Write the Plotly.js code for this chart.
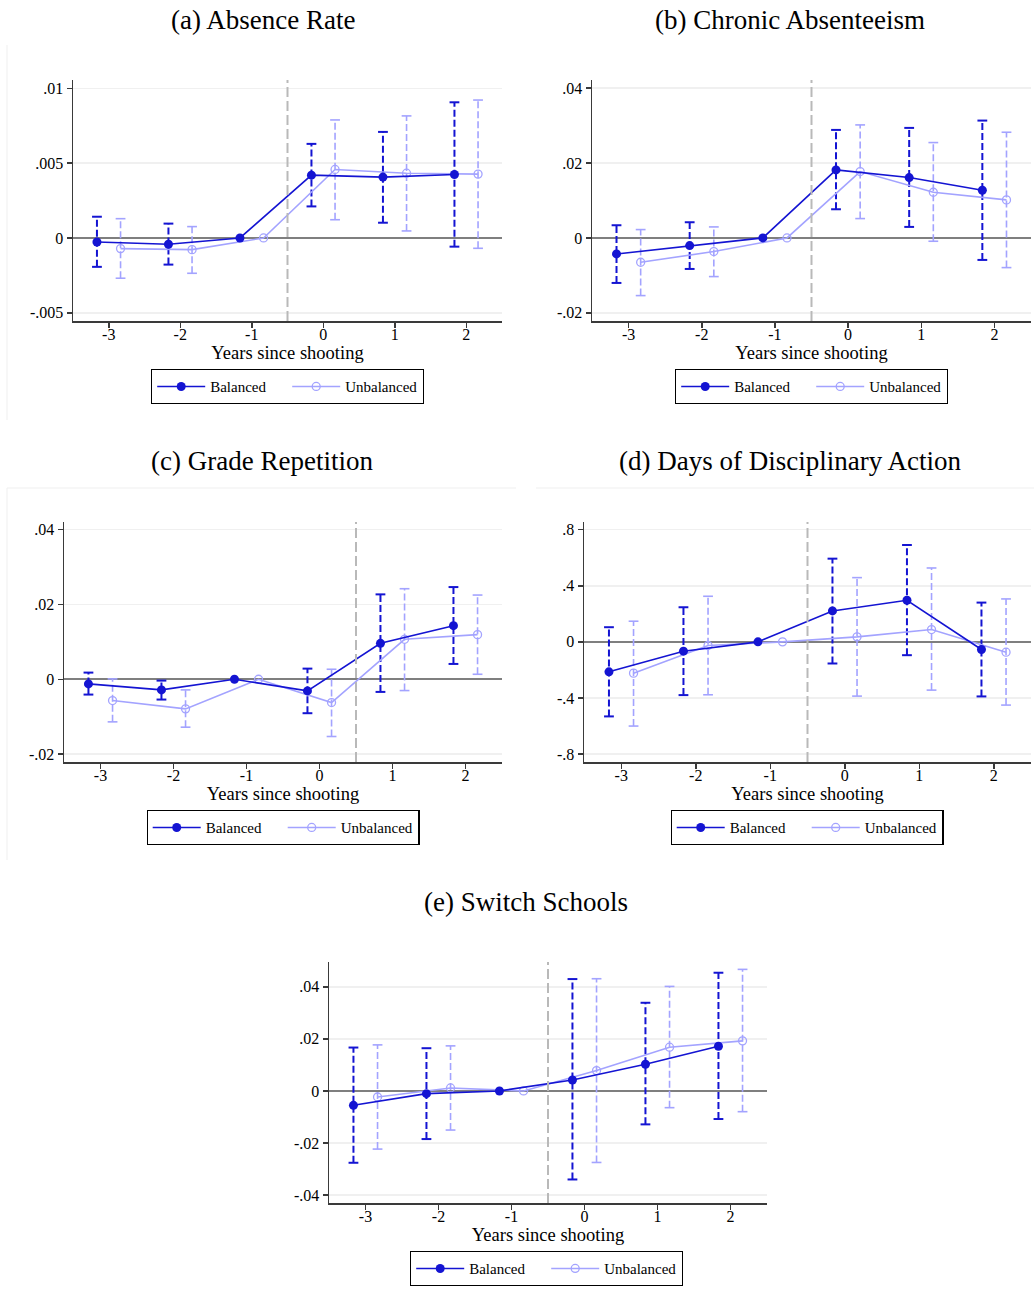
<!DOCTYPE html>
<html>
<head>
<meta charset="utf-8">
<script src="https://cdn.plot.ly/plotly-3.0.1.min.js"></script>
<style>html,body{margin:0;padding:0;background:#fff;}#chart{width:1034px;height:1295px;}</style>
</head>
<body>
<div id="chart"></div>
<script>
// ---------- data ----------
const years = [-3, -2, -1, 0, 1, 2];
const xTickText = ['-3', '-2', '-1', '0', '1', '2'];
const seriesNames = ['Balanced', 'Unbalanced'];
const panelTitles = ['(a) Absence Rate', '(b) Chronic Absenteeism', '(c) Grade Repetition',
                     '(d) Days of Disciplinary Action', '(e) Switch Schools'];
const xAxisLabel = 'Years since shooting';
const eventLine = [-0.5, -0.5, 0.5, -0.5, -0.5];

// (a) Absence Rate
const absBal   = [-0.00027, -0.00042, 0, 0.00420, 0.00407, 0.00424];
const absBalLo = [-0.00193, -0.00178, null, 0.00211, 0.00102, -0.00058];
const absBalHi = [0.00142, 0.00096, null, 0.00629, 0.00709, 0.00907];
const absUnb   = [-0.00071, -0.00078, 0, 0.00458, 0.00433, 0.00427];
const absUnbLo = [-0.00269, -0.00236, null, 0.00122, 0.00047, -0.00069];
const absUnbHi = [0.00129, 0.00076, null, 0.00789, 0.00816, 0.00922];
const absTicks = [-0.005, 0, 0.005, 0.01];
const absTickText = ['-.005', '0', '.005', '.01'];

// (b) Chronic Absenteeism
const chrBal   = [-0.00428, -0.00205, 0, 0.01817, 0.01613, 0.01274];
const chrBalLo = [-0.01203, -0.00829, null, 0.00766, 0.00294, -0.00588];
const chrBalHi = [0.00339, 0.00419, null, 0.02886, 0.02940, 0.03136];
const chrUnb   = [-0.00650, -0.00365, 0, 0.01773, 0.01220, 0.01016];
const chrUnbLo = [-0.01541, -0.01033, null, 0.00517, -0.00089, -0.00793];
const chrUnbHi = [0.00223, 0.00294, null, 0.03020, 0.02548, 0.02824];
const chrTicks = [-0.02, 0, 0.02, 0.04];
const chrTickText = ['-.02', '0', '.02', '.04'];

// (c) Grade Repetition
const grdBal   = [-0.00124, -0.00284, 0, -0.00311, 0.00960, 0.01431];
const grdBalLo = [-0.00409, -0.00542, null, -0.00907, -0.00338, 0.00409];
const grdBalHi = [0.00178, -0.00036, null, 0.00284, 0.02267, 0.02462];
const grdUnb   = [-0.00569, -0.00791, 0, -0.00622, 0.01067, 0.01191];
const grdUnbLo = [-0.01138, -0.01280, null, -0.01529, -0.00302, 0.00133];
const grdUnbHi = [0.00010, -0.00284, null, 0.00267, 0.02418, 0.02249];
const grdTicks = [-0.02, 0, 0.02, 0.04];
const grdTickText = ['-.02', '0', '.02', '.04'];

// (d) Days of Disciplinary Action
const disBal   = [-0.2137, -0.0665, 0, 0.2208, 0.2967, -0.0546];
const disBalLo = [-0.5318, -0.3798, null, -0.1543, -0.0950, -0.3893];
const disBalHi = [0.1045, 0.2469, null, 0.5935, 0.6908, 0.2801];
const disUnb   = [-0.2231, -0.0261, 0, 0.0356, 0.0878, -0.0736];
const disUnbLo = [-0.6006, -0.3774, null, -0.3870, -0.3442, -0.4510];
const disUnbHi = [0.1472, 0.3252, null, 0.4582, 0.5270, 0.3062];
const disTicks = [-0.8, -0.4, 0, 0.4, 0.8];
const disTickText = ['-.8', '-.4', '0', '.4', '.8'];

// (e) Switch Schools
const swBal   = [-0.00551, -0.00103, 0, 0.00423, 0.01026, 0.01718];
const swBalLo = [-0.02756, -0.01846, null, -0.03397, -0.01282, -0.01077];
const swBalHi = [0.01667, 0.01641, null, 0.04295, 0.03385, 0.04538];
const swUnb   = [-0.00231, 0.00115, 0, 0.00782, 0.01680, 0.01923];
const swUnbLo = [-0.02231, -0.01500, null, -0.02744, -0.00641, -0.00795];
const swUnbHi = [0.01769, 0.01731, null, 0.04308, 0.04013, 0.04667];
const swTicks = [-0.04, -0.02, 0, 0.02, 0.04];
const swTickText = ['-.04', '-.02', '0', '.02', '.04'];

// ---------- layout / styling ----------
const W = 1034, H = 1295;
const BAL = '#1414d2', UNB = '#a3a3ff';
const FONT = "'Liberation Serif', serif";
const OFF = 0.165;

const panels = [
  {bal: absBal, balLo: absBalLo, balHi: absBalHi, unb: absUnb, unbLo: absUnbLo, unbHi: absUnbHi,
   ticks: absTicks, tickText: absTickText, yr: [-0.00555, 0.01056],
   px: [73, 502], py: [80, 321], titleX: 263, titleY: 20, legX: 287.5, legY: 386.5},
  {bal: chrBal, balLo: chrBalLo, balHi: chrBalHi, unb: chrUnb, unbLo: chrUnbLo, unbHi: chrUnbHi,
   ticks: chrTicks, tickText: chrTickText, yr: [-0.0222, 0.0422],
   px: [592, 1031], py: [80, 321], titleX: 790, titleY: 20, legX: 811.5, legY: 386.5},
  {bal: grdBal, balLo: grdBalLo, balHi: grdBalHi, unb: grdUnb, unbLo: grdUnbLo, unbHi: grdUnbHi,
   ticks: grdTicks, tickText: grdTickText, yr: [-0.0221, 0.0420],
   px: [64, 502], py: [522, 762], titleX: 262, titleY: 461, legX: 283, legY: 827.5},
  {bal: disBal, balLo: disBalLo, balHi: disBalHi, unb: disUnb, unbLo: disUnbLo, unbHi: disUnbHi,
   ticks: disTicks, tickText: disTickText, yr: [-0.857, 0.855],
   px: [584, 1031], py: [522, 762], titleX: 790, titleY: 461, legX: 807, legY: 827.5},
  {bal: swBal, balLo: swBalLo, balHi: swBalHi, unb: swUnb, unbLo: swUnbLo, unbHi: swUnbHi,
   ticks: swTicks, tickText: swTickText, yr: [-0.0430, 0.0495],
   px: [329, 767], py: [962, 1203], titleX: 526, titleY: 902, legX: 546.5, legY: 1268.5}
];

const traces = [];
const layout = {
  width: W, height: H,
  margin: {l: 0, r: 0, t: 0, b: 0},
  paper_bgcolor: '#fff', plot_bgcolor: '#fff',
  showlegend: true,
  font: {family: FONT, color: '#000'},
  annotations: [], shapes: []
};

function ciTrace(xs, lo, hi, color, width, axes, dash) {
  const x = [], y = [];
  xs.forEach((xv, i) => {
    if (lo[i] !== null && hi[i] !== null) { x.push(xv, xv, null); y.push(lo[i], hi[i], null); }
  });
  return {
    type: 'scatter', mode: 'lines+markers', x: x, y: y,
    xaxis: axes[0], yaxis: axes[1], showlegend: false, hoverinfo: 'skip',
    line: {color: color, width: width, dash: dash},
    marker: {symbol: 'line-ew', size: 7, color: color, line: {color: color, width: width}}
  };
}

panels.forEach((p, k) => {
  const n = k === 0 ? '' : String(k + 1);
  const xa = 'x' + n, ya = 'y' + n;
  const legId = 'legend' + n;
  const xBal = years.map(t => t - OFF);
  const xUnb = years.map(t => t + OFF);

  traces.push(ciTrace(xUnb, p.unbLo, p.unbHi, UNB, 1.6, [xa, ya], '7px,3px'));
  traces.push(ciTrace(xBal, p.balLo, p.balHi, BAL, 2, [xa, ya], '7px,3px'));
  traces.push({
    type: 'scatter', mode: 'lines+markers', name: seriesNames[1], x: xUnb, y: p.unb,
    xaxis: xa, yaxis: ya, legend: legId, legendrank: 2,
    line: {color: UNB, width: 1.6},
    marker: {symbol: 'circle-open', size: 8, color: UNB, line: {color: UNB, width: 1.3}}
  });
  traces.push({
    type: 'scatter', mode: 'lines+markers', name: seriesNames[0], x: xBal, y: p.bal,
    xaxis: xa, yaxis: ya, legend: legId, legendrank: 1,
    line: {color: BAL, width: 1.6},
    marker: {symbol: 'circle', size: 9, color: BAL}
  });

  layout['xaxis' + n] = {
    domain: [p.px[0] / W, p.px[1] / W], anchor: ya,
    range: [-3.5, 2.5], tickvals: years, ticktext: xTickText,
    showgrid: false, zeroline: false,
    showline: true, linecolor: '#3a3a3a', linewidth: 1.5,
    ticks: 'outside', ticklen: 5, tickwidth: 1.5, tickcolor: '#3a3a3a',
    ticklabelstandoff: -7,
    tickfont: {family: FONT, size: 16, color: '#000'},
    title: {text: xAxisLabel, font: {family: FONT, size: 18.5, color: '#000'}, standoff: 1},
    fixedrange: true
  };
  layout['yaxis' + n] = {
    domain: [1 - p.py[1] / H, 1 - p.py[0] / H], anchor: xa,
    range: p.yr, tickvals: p.ticks, ticktext: p.tickText,
    showgrid: true, gridcolor: '#f0f0f0', gridwidth: 1.5,
    zeroline: true, zerolinecolor: '#7f7f7f', zerolinewidth: 2,
    showline: true, linecolor: '#3a3a3a', linewidth: 1.5,
    ticks: 'outside', ticklen: 5, tickwidth: 1.5, tickcolor: '#3a3a3a',
    tickfont: {family: FONT, size: 16, color: '#000'},
    fixedrange: true
  };
  layout[legId] = {
    x: p.legX / W, xanchor: 'center', y: 1 - p.legY / H, yanchor: 'middle',
    orientation: 'h', bordercolor: '#000', borderwidth: 1.2, bgcolor: '#fff',
    font: {family: FONT, size: 15, color: '#000'},
    itemwidth: 48, entrywidth: 72, entrywidthmode: 'pixels',
    traceorder: 'normal'
  };
  layout.shapes.push({
    type: 'line', xref: xa, yref: ya + ' domain', x0: eventLine[k], x1: eventLine[k], y0: 0, y1: 1,
    line: {color: '#b9b9b9', width: 2, dash: '10px,4px'}, layer: 'above'
  });
  layout.annotations.push({
    text: panelTitles[k], xref: 'paper', yref: 'paper', x: p.titleX / W, y: 1 - p.titleY / H,
    xanchor: 'center', yanchor: 'middle', showarrow: false,
    font: {family: FONT, size: 27, color: '#000'}
  });
});

// faint graph-region edges
const faint = {color: '#efefef', width: 1};
[[7, 45, 7, 420], [7, 488, 7, 860], [7, 488, 516, 488], [536, 488, 1034, 488]].forEach(s => {
  layout.shapes.push({type: 'line', xref: 'paper', yref: 'paper',
    x0: s[0] / W, y0: 1 - s[1] / H, x1: s[2] / W, y1: 1 - s[3] / H, line: faint, layer: 'below'});
});

Plotly.newPlot('chart', traces, layout, {staticPlot: true, displayModeBar: false});
</script>
</body>
</html>
